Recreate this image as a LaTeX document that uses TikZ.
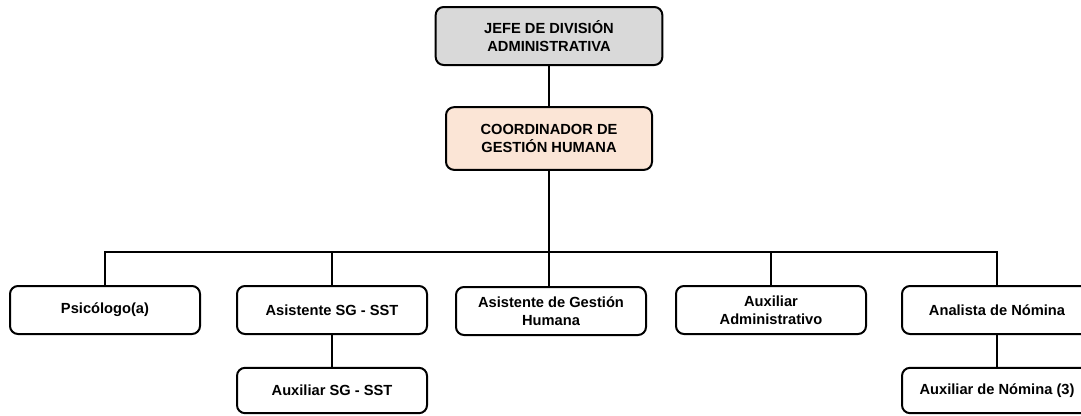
\documentclass[tikz,border=0pt]{standalone}
\usepackage{fontspec}
\setmainfont{Liberation Sans}
\usepackage{tikz}
\usetikzlibrary{positioning}
\definecolor{jefegray}{HTML}{D9D9D9}
\definecolor{coordpeach}{HTML}{FBE5D6}

\begin{document}
\begin{tikzpicture}[x=0.75pt, y=-0.75pt,
    box/.style={
        draw, line width=1.5pt, rounded corners=6pt,
        fill=white, align=center, inner sep=2pt,
        font=\fontsize{11}{13.3}\selectfont\bfseries,
        minimum width=142.5pt, minimum height=36pt
    },
    conn/.style={line width=1.6pt}
]
    \useasboundingbox (0,0) rectangle (1081,415);
    \clip (0,0) rectangle (1081,415);

    \node[box, fill=jefegray, minimum width=170pt, minimum height=43.5pt] (jefe) at (549,36) {JEFE DE DIVISIÓN\\ADMINISTRATIVA};
    \node[box, fill=coordpeach, minimum width=154.5pt, minimum height=47pt] (coord) at (549,138.5) {COORDINADOR DE\\GESTIÓN HUMANA};

    \node[box] (psico) at (105,310) {Psicólogo(a)};
    \node[box] (asist) at (332,310) {Asistente SG - SST};
    \node[box] (asgh) at (551,311) {Asistente de Gestión\\Humana};
    \node[box] (auxadm) at (771,310) {Auxiliar\\Administrativo};
    \node[box] (anal) at (997,310) {Analista de Nómina};

    \node[box, minimum height=34pt] (auxsg) at (332,390.5) {Auxiliar SG - SST};
    \node[box, minimum height=34pt] (auxnom) at (997,390.5) {Auxiliar de Nómina (3)};

    \coordinate (bar) at (549,252);

    \draw[conn] (jefe) -- (coord);
    \draw[conn] (coord) -- (bar);
    \draw[conn, line join=miter] (psico.north) |- (bar) -| (anal.north);
    \draw[conn] (asist.north) -- (asist.north |- bar);
    \draw[conn] (asgh.north -| bar) -- (bar);
    \draw[conn] (auxadm.north) -- (auxadm.north |- bar);
    \draw[conn] (asist) -- (auxsg);
    \draw[conn] (anal) -- (auxnom);
\end{tikzpicture}
\end{document}
